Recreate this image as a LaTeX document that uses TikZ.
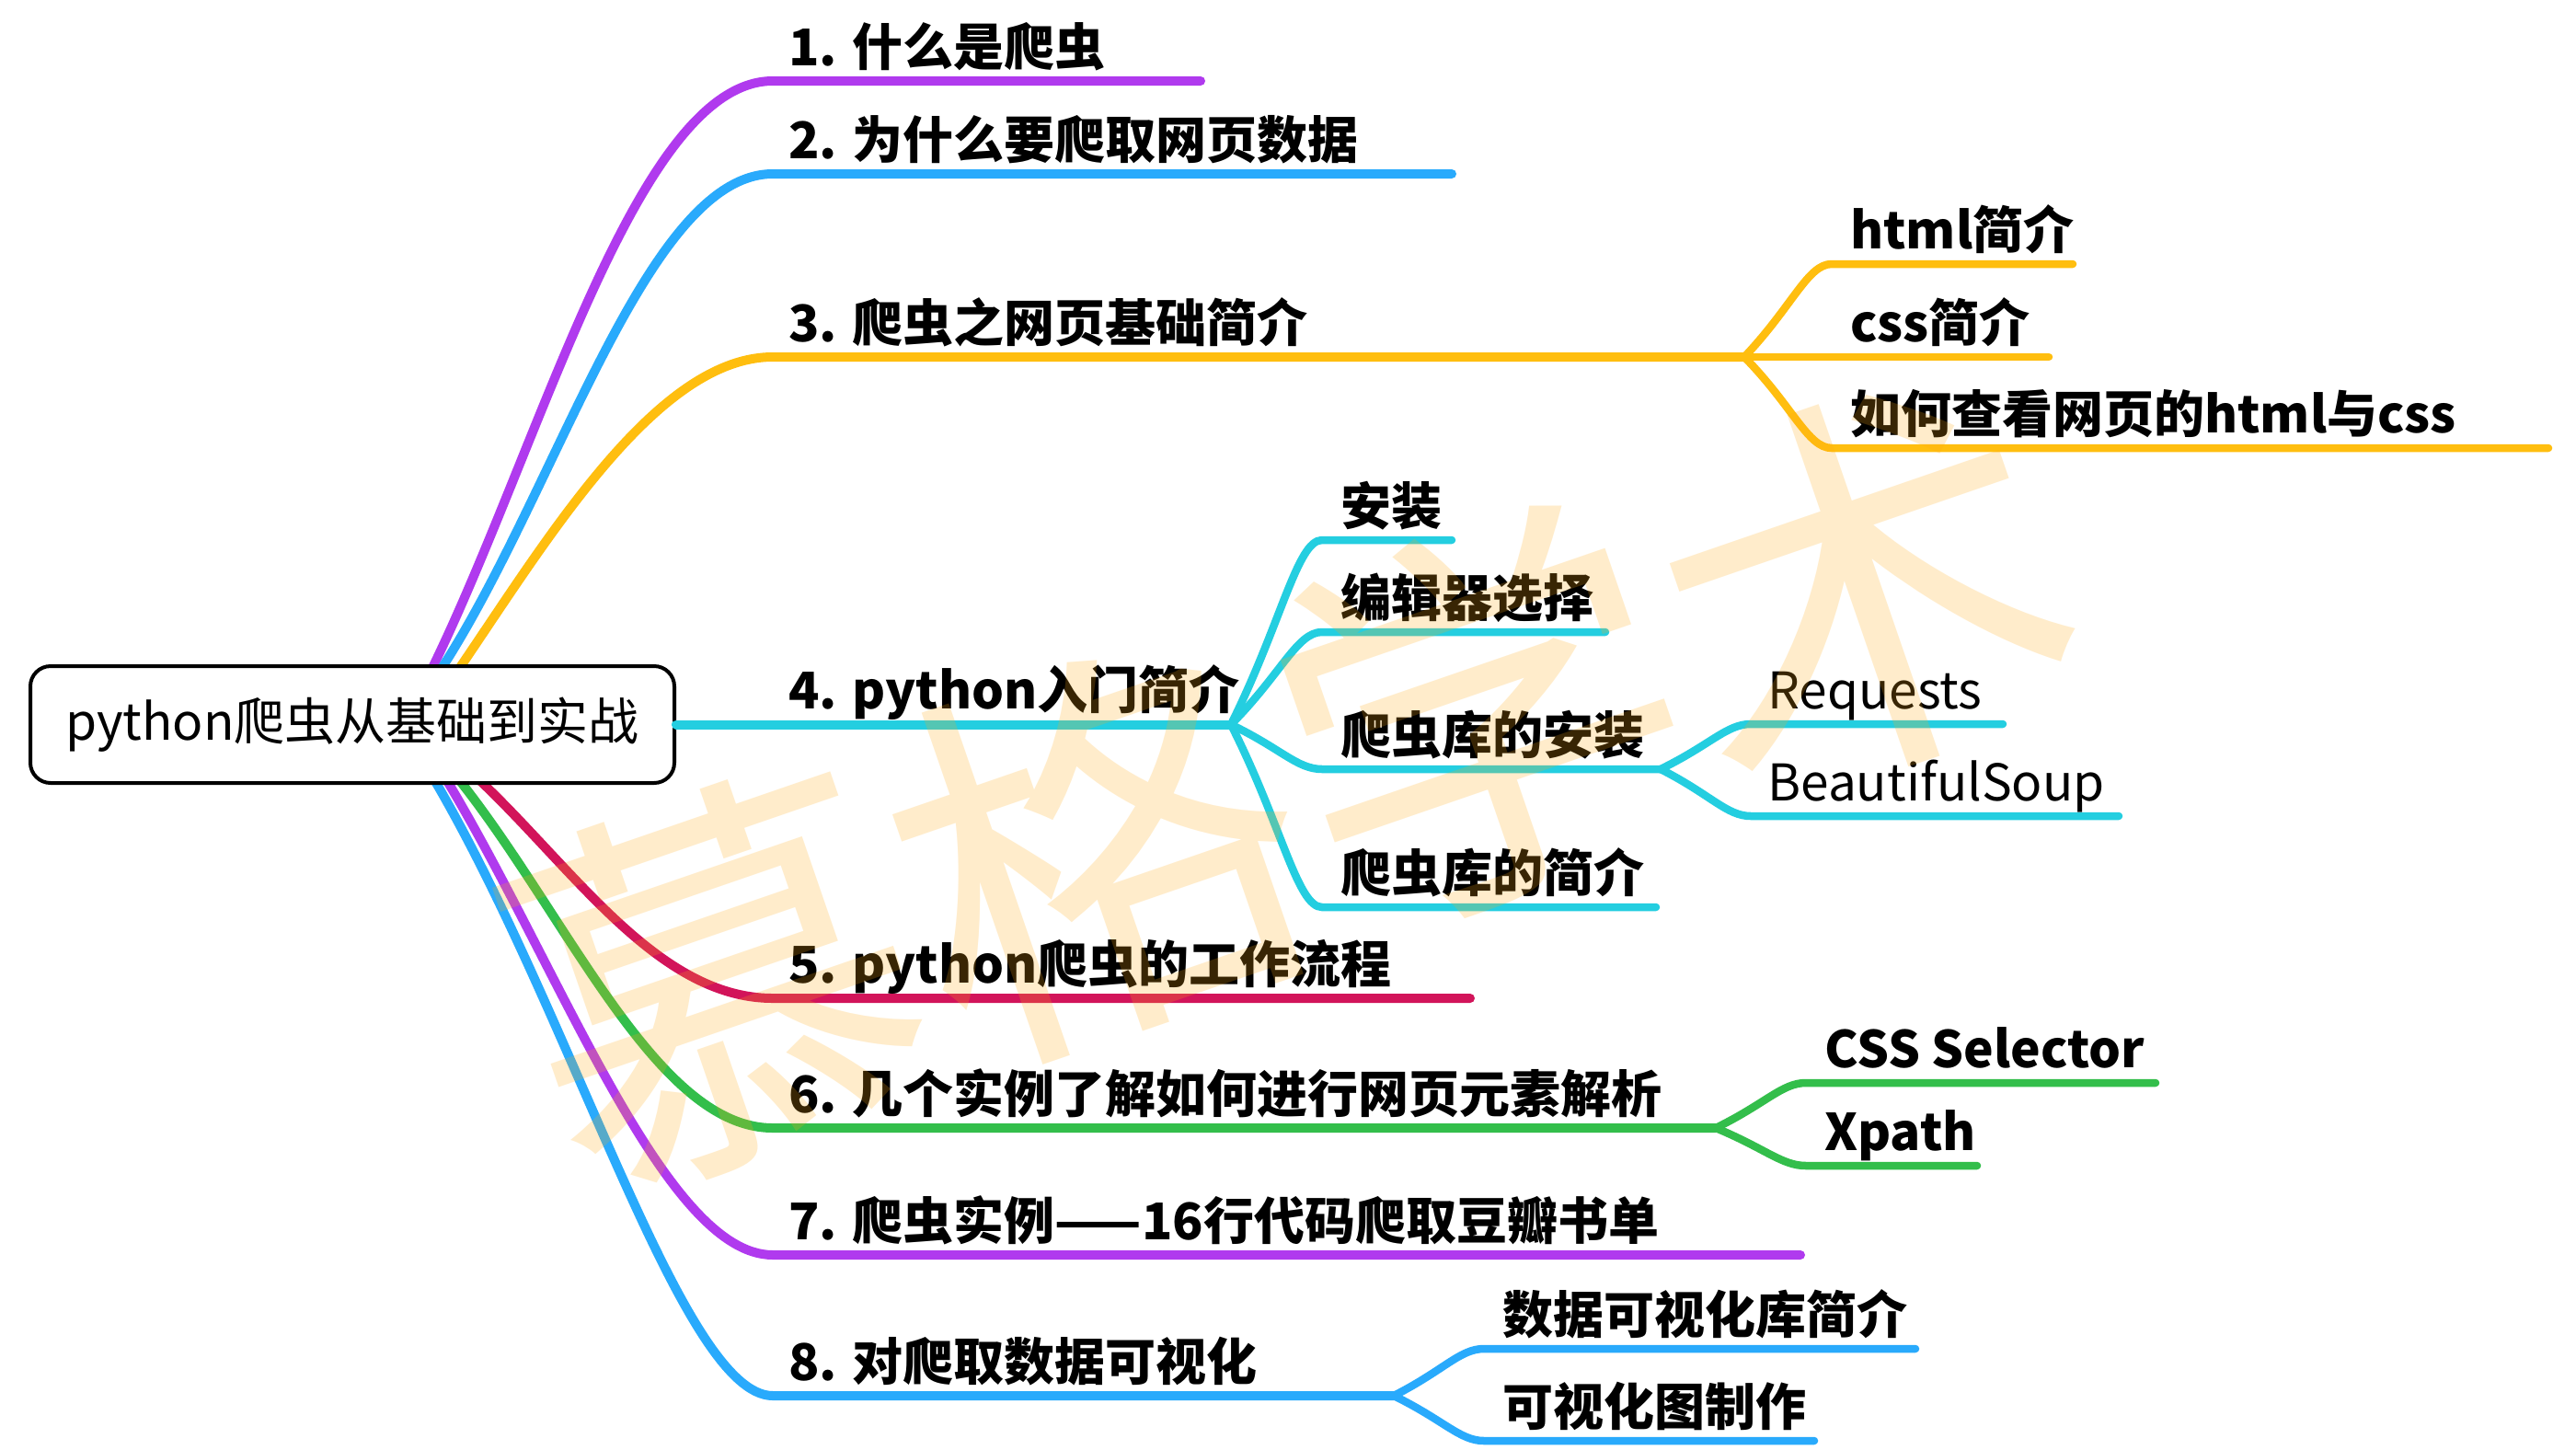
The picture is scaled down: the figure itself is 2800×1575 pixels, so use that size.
\documentclass[tikz,border=0pt]{standalone}
\usepackage{fontspec}
\setmainfont{Noto Sans CJK SC}
\definecolor{cpur}{HTML}{B03AEE}
\definecolor{cblu}{HTML}{29AAFC}
\definecolor{cyel}{HTML}{FFBE0F}
\definecolor{ccya}{HTML}{24CEE0}
\definecolor{cred}{HTML}{D2145A}
\definecolor{cgrn}{HTML}{33BE4B}
\definecolor{cwm}{HTML}{FFAA14}
\begin{document}
\begin{tikzpicture}[x=1pt,y=-1pt,line cap=round,
  br/.style={line width=10pt},
  sb/.style={line width=8.5pt},
  lone/.style={anchor=base west,inner sep=0pt,font=\fontsize{55}{60}\selectfont\bfseries},
  ltwo/.style={anchor=base west,inner sep=0pt,font=\fontsize{55}{60}\selectfont\bfseries},
  lthin/.style={anchor=base west,inner sep=0pt,font=\fontsize{55}{60}\selectfont},
  rootbox/.style={draw=black,line width=4pt,rounded corners=22pt,fill=white,
     minimum width=700pt,minimum height=127pt,inner sep=0pt,font=\fontsize{55}{60}\selectfont}]
\useasboundingbox (0,0) rectangle (2800,1575);
\fill[white] (0,0) rectangle (2800,1575);

% ---- coordinates
\coordinate (s1) at (463,740);  \coordinate (h1) at (840,88);   \coordinate (e1) at (1305,88);
\coordinate (s2) at (471,740);  \coordinate (h2) at (840,189);  \coordinate (e2) at (1578,189);
\coordinate (s3) at (490,740);  \coordinate (h3) at (840,388);  \coordinate (b3) at (1896,388);
\coordinate (s5) at (506,834);  \coordinate (h5) at (840,1085); \coordinate (e5) at (1598,1085);
\coordinate (s6) at (488,834);  \coordinate (h6) at (840,1226); \coordinate (b6) at (1865,1226);
\coordinate (s7) at (477,834);  \coordinate (h7) at (840,1364); \coordinate (e7) at (1957,1364);
\coordinate (s8) at (464,834);  \coordinate (h8) at (840,1517); \coordinate (b8) at (1515,1517);
\coordinate (b4) at (1338,787.5);
% level 2 of 3
\coordinate (h31) at (1991,287); \coordinate (e31) at (2253,287);
\coordinate (e32) at (2227,388);
\coordinate (h33) at (1991,487); \coordinate (e33) at (2770,487);
% level 2 of 4
\coordinate (h41) at (1437,587); \coordinate (e41) at (1578,587);
\coordinate (h42) at (1437,687); \coordinate (e42) at (1745,687);
\coordinate (h43) at (1437,836); \coordinate (b43) at (1805,836);
\coordinate (h44) at (1437,986); \coordinate (e44) at (1800,986);
\coordinate (h431) at (1903,787); \coordinate (e431) at (2177,787);
\coordinate (h432) at (1903,887); \coordinate (e432) at (2303,887);
% level 2 of 6
\coordinate (h61) at (1963,1177); \coordinate (e61) at (2343,1177);
\coordinate (h62) at (1963,1267); \coordinate (e62) at (2149,1267);
% level 2 of 8
\coordinate (h81) at (1613,1466); \coordinate (e81) at (2082,1466);
\coordinate (h82) at (1613,1566); \coordinate (e82) at (1972,1566);

% ---- main branches
\draw[br,cpur] (s1) .. controls (585,497) and (690,88) .. (h1) -- (e1);
\draw[br,cblu] (s2) .. controls (602,547) and (700,189) .. (h2) -- (e2);
\draw[br,cyel] (s3) .. controls (588,598) and (710,388) .. (h3) -- (b3);
\draw[br,cred] (s5) .. controls (616,932) and (710,1085) .. (h5) -- (e5);
\draw[br,cgrn] (s6) .. controls (612,983) and (710,1226) .. (h6) -- (b6);
\draw[br,cpur] (s7) .. controls (604,1039) and (720,1364) .. (h7) -- (e7);
\draw[br,cblu] (s8) .. controls (620,1092) and (740,1517) .. (h8) -- (b8);

% ---- sub branches of 3
\draw[sb,cyel] (b3) .. controls (1949,332) and (1965,287) .. (h31) -- (e31);
\draw[sb,cyel] (b3) -- (e32);
\draw[sb,cyel] (b3) .. controls (1949,442) and (1965,487) .. (h33) -- (e33);
% ---- sub branches of 4
\draw[sb,ccya] (b4) .. controls (1393,677) and (1410,587) .. (h41) -- (e41);
\draw[sb,ccya] (b4) .. controls (1393,732) and (1410,687) .. (h42) -- (e42);
\draw[sb,ccya] (b4) .. controls (1393,814) and (1410,836) .. (h43) -- (b43);
\draw[sb,ccya] (b4) .. controls (1393,896) and (1410,986) .. (h44) -- (e44);
\draw[sb,ccya] (b43) .. controls (1860,809) and (1877,787) .. (h431) -- (e431);
\draw[sb,ccya] (b43) .. controls (1860,864) and (1877,887) .. (h432) -- (e432);
% ---- sub branches of 6
\draw[sb,cgrn] (b6) .. controls (1920,1199) and (1937,1177) .. (h61) -- (e61);
\draw[sb,cgrn] (b6) .. controls (1920,1249) and (1937,1267) .. (h62) -- (e62);
% ---- sub branches of 8
\draw[sb,cblu] (b8) .. controls (1570,1489) and (1587,1466) .. (h81) -- (e81);
\draw[sb,cblu] (b8) .. controls (1570,1544) and (1587,1566) .. (h82) -- (e82);

% ---- root
\node[rootbox] (root) at (383,787.5) {python爬虫从基础到实战};
\draw[br,ccya] (root.east) -- (b4);

% ---- labels
\node[lone] (t1) at (857,71)   {1. 什么是爬虫};
\node[lone] (t2) at (857,172)  {2. 为什么要爬取网页数据};
\node[lone] (t3) at (857,371)  {3. 爬虫之网页基础简介};
\node[lone] (t4) at (857,770)  {4. python入门简介};
\node[lone] (t5) at (857,1068) {5. python爬虫的工作流程};
\node[lone] (t6) at (857,1209) {6. 几个实例了解如何进行网页元素解析};
\node[lone] (t7) at (857,1347) {7. 爬虫实例——16行代码爬取豆瓣书单};
\node[lone] (t8) at (857,1500) {8. 对爬取数据可视化};

\node[ltwo] (t31) at (2011,270) {html简介};
\node[ltwo] (t32) at (2011,371) {css简介};
\node[ltwo] (t33) at (2011,470) {如何查看网页的html与css};
\node[ltwo] (t41) at (1457,570) {安装};
\node[ltwo] (t42) at (1457,670) {编辑器选择};
\node[ltwo] (t43) at (1457,819) {爬虫库的安装};
\node[ltwo] (t44) at (1457,969) {爬虫库的简介};
\node[lthin] (t431) at (1921,770) {Requests};
\node[lthin] (t432) at (1921,870) {BeautifulSoup};
\node[ltwo] (t61) at (1983,1160) {CSS Selector};
\node[ltwo] (t62) at (1983,1250) {Xpath};
\node[ltwo] (t81) at (1633,1449) {数据可视化库简介};
\node[ltwo] (t82) at (1633,1549) {可视化图制作};

% ---- watermark
\node[rotate=19,text=cwm,opacity=0.22,inner sep=0pt,font=\fontsize{440}{440}\selectfont] (wm) at (1400,850) {慕格学术};
\end{tikzpicture}
\end{document}
